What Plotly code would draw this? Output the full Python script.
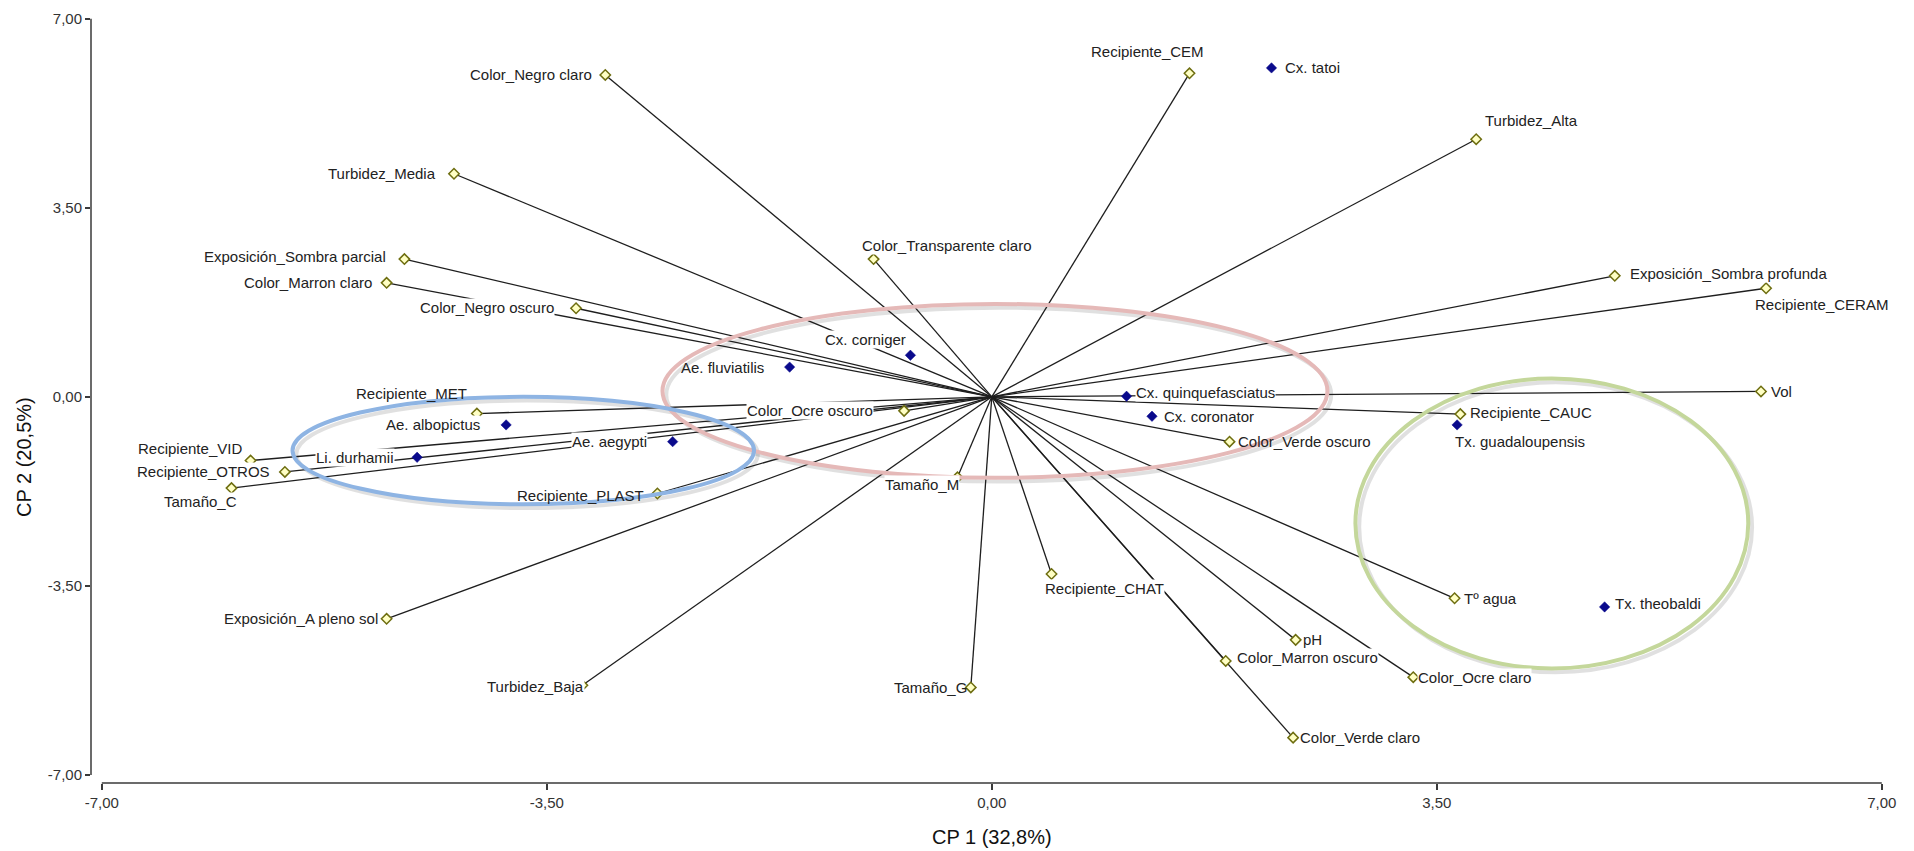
import plotly.graph_objects as go

# --- Variable loadings (CP 1, CP 2) -------------------------------------
var_names = [
    "Color_Negro claro", "Turbidez_Media", "Exposición_Sombra parcial",
    "Color_Marron claro", "Color_Negro oscuro", "Color_Transparente claro",
    "Recipiente_CEM", "Turbidez_Alta", "Exposición_Sombra profunda",
    "Recipiente_CERAM", "Vol", "Recipiente_CAUC", "Color_Verde oscuro",
    "Tº agua", "pH", "Color_Ocre claro", "Color_Marron oscuro",
    "Color_Verde claro", "Recipiente_CHAT", "Tamaño_G", "Tamaño_M",
    "Color_Ocre oscuro", "Recipiente_MET", "Recipiente_VID",
    "Recipiente_OTROS", "Tamaño_C", "Recipiente_PLAST",
    "Exposición_A pleno sol", "Turbidez_Baja",
]
var_cp1 = [-3.04, -4.23, -4.62, -4.76, -3.27, -0.93, 1.555, 3.81, 4.90,
           6.09, 6.05, 3.685, 1.87, 3.64, 2.39, 3.315, 1.84, 2.37, 0.47,
           -0.165, -0.27, -0.69, -4.05, -5.83, -5.56, -5.98, -2.63, -4.76,
           -3.22]
var_cp2 = [5.96, 4.13, 2.55, 2.11, 1.64, 2.55, 5.99, 4.77, 2.24, 2.01,
           0.10, -0.32, -0.83, -3.73, -4.50, -5.19, -4.89, -6.31, -3.28,
           -5.38, -1.49, -0.26, -0.31, -1.18, -1.39, -1.69, -1.79, -4.11,
           -5.34]

# --- Species scores (CP 1, CP 2) ----------------------------------------
sp_names = [
    "Cx. tatoi", "Cx. corniger", "Ae. fluviatilis", "Cx. quinquefasciatus",
    "Cx. coronator", "Tx. guadaloupensis", "Tx. theobaldi",
    "Ae. albopictus", "Ae. aegypti", "Li. durhamii",
]
sp_cp1 = [2.20, -0.64, -1.59, 1.06, 1.26, 3.66, 4.82, -3.82, -2.51, -4.52]
sp_cp2 = [6.09, 0.77, 0.55, 0.01, -0.36, -0.52, -3.89, -0.52, -0.83, -1.12]

# --- Axis ticks ---------------------------------------------------------
tick_vals = [-7.0, -3.5, 0.0, 3.5, 7.0]
tick_text = ["-7,00", "-3,50", "0,00", "3,50", "7,00"]

# --- Group outlines (x0, x1, y0, y1, colour) ----------------------------
groups = [
    (-2.59, 2.64, -1.50, 1.72, "#e5b9b8"),
    (-5.50, -1.87, -1.99, 0.00, "#8eb4e3"),
    (2.86, 5.95, -5.03, 0.34, "#c4d79b"),
]

# Label placement: (xanchor, xshift px, yshift px)
label_place = {
    "Color_Negro claro": ("right", -12, 0),
    "Turbidez_Media": ("right", -17, 0),
    "Exposición_Sombra parcial": ("right", -17, 3),
    "Color_Marron claro": ("right", -14, 0),
    "Color_Negro oscuro": ("right", -21, 1),
    "Color_Transparente claro": ("left", -13, 14),
    "Recipiente_CEM": ("right", 16, 22),
    "Turbidez_Alta": ("left", 8, 19),
    "Exposición_Sombra profunda": ("left", 14, 2),
    "Recipiente_CERAM": ("left", -12, -16),
    "Vol": ("left", 9, 0),
    "Recipiente_CAUC": ("left", 9, 2),
    "Color_Verde oscuro": ("left", 7, 0),
    "Tº agua": ("left", 8, 0),
    "pH": ("left", 6, 0),
    "Color_Ocre claro": ("left", 4, 0),
    "Color_Marron oscuro": ("left", 10, 3),
    "Color_Verde claro": ("left", 6, 0),
    "Recipiente_CHAT": ("left", -8, -15),
    "Tamaño_G": ("right", -3, 0),
    "Tamaño_M": ("right", 3, -7),
    "Color_Ocre oscuro": ("right", -30, 0),
    "Recipiente_MET": ("right", -9, 20),
    "Recipiente_VID": ("right", -8, 12),
    "Recipiente_OTROS": ("right", -14, 0),
    "Tamaño_C": ("right", 7, -13),
    "Recipiente_PLAST": ("right", -12, -2),
    "Exposición_A pleno sol": ("right", -8, 0),
    "Turbidez_Baja": ("right", 3, -1),
    "Cx. tatoi": ("left", 12, 0),
    "Cx. corniger": ("right", -3, 16),
    "Ae. fluviatilis": ("right", -25, 0),
    "Cx. quinquefasciatus": ("left", 8, 4),
    "Cx. coronator": ("left", 11, 0),
    "Tx. guadaloupensis": ("left", -3, -17),
    "Tx. theobaldi": ("left", 9, 3),
    "Ae. albopictus": ("right", -25, 0),
    "Ae. aegypti": ("right", -25, 0),
    "Li. durhamii": ("right", -22, 0),
}
# Labels drawn without an opaque box (the group outlines run across them)
no_box = {"Color_Verde oscuro", "Recipiente_PLAST", "Recipiente_MET",
          "Ae. fluviatilis", "Tamaño_G"}

FONT = "Liberation Sans, Arial, sans-serif"

fig = go.Figure()

# Vectors from the origin to each variable
vx, vy = [], []
for x, y in zip(var_cp1, var_cp2):
    vx += [0, x, None]
    vy += [0, y, None]
fig.add_trace(go.Scatter(x=vx, y=vy, mode="lines",
                         line=dict(color="#1e1e1e", width=1.3),
                         hoverinfo="skip", showlegend=False))

# Variable end points
fig.add_trace(go.Scatter(x=var_cp1, y=var_cp2, mode="markers",
                         marker=dict(symbol="diamond", size=8, color="#ffffc4",
                                     line=dict(color="#6e6e10", width=1.5)),
                         text=var_names, hoverinfo="text", showlegend=False))

# Species points
fig.add_trace(go.Scatter(x=sp_cp1, y=sp_cp2, mode="markers",
                         marker=dict(symbol="diamond", size=8, color="#0a0a8c",
                                     line=dict(color="#0a0a8c", width=0.5)),
                         text=sp_names, hoverinfo="text", showlegend=False))

annotations = []
for names, xs, ys in ((var_names, var_cp1, var_cp2), (sp_names, sp_cp1, sp_cp2)):
    for n, x, y in zip(names, xs, ys):
        xa, dx, dy = label_place[n]
        ann = dict(x=x, y=y, xref="x", yref="y", text=n,
                   showarrow=False, xanchor=xa, yanchor="middle",
                   xshift=dx, yshift=dy, borderpad=0,
                   font=dict(family=FONT, size=15, color="#222222"))
        if n not in no_box:
            ann["bgcolor"] = "white"
        annotations.append(ann)

# Axis titles
annotations.append(dict(x=0, y=0, xref="x", yref="paper", text="CP 1 (32,8%)",
                        showarrow=False, xanchor="center", yanchor="middle",
                        yshift=-54, font=dict(family=FONT, size=20, color="#111111")))
annotations.append(dict(x=0, y=0.424, xref="paper", yref="paper", text="CP 2 (20,5%)",
                        showarrow=False, xanchor="center", yanchor="middle",
                        xshift=-67, textangle=-90,
                        font=dict(family=FONT, size=20, color="#111111")))

shapes = []
# Group outlines with a soft drop shadow
for x0, x1, y0, y1, col in groups:
    shapes.append(dict(type="circle", xref="x", yref="y",
                       x0=x0 + 0.03, x1=x1 + 0.03, y0=y0 - 0.07, y1=y1 - 0.07,
                       line=dict(color="rgba(0,0,0,0.12)", width=4), layer="below"))
    shapes.append(dict(type="circle", xref="x", yref="y",
                       x0=x0, x1=x1, y0=y0, y1=y1,
                       line=dict(color=col, width=4), layer="above"))

# Axis lines
shapes.append(dict(type="line", xref="x", yref="paper", x0=-7, x1=7, y0=0, y1=0,
                   line=dict(color="#3a3a3a", width=1.5)))
shapes.append(dict(type="line", xref="paper", yref="y", x0=0, x1=0, y0=-7, y1=7,
                   line=dict(color="#3a3a3a", width=1.5)))

fig.update_layout(
    width=1914, height=851,
    margin=dict(l=91, r=26, t=10, b=68),
    paper_bgcolor="white", plot_bgcolor="white",
    annotations=annotations, shapes=shapes,
    xaxis=dict(range=[-7.085, 7.049], tickvals=tick_vals, ticktext=tick_text,
               showgrid=False, zeroline=False, showline=False,
               ticks="outside", ticklen=6, tickcolor="#3a3a3a", tickwidth=1.5,
               tickfont=dict(family=FONT, size=15, color="#333333")),
    yaxis=dict(range=[-7.15, 7.088], tickvals=tick_vals, ticktext=tick_text,
               showgrid=False, zeroline=False, showline=False,
               ticks="outside", ticklen=5, tickcolor="#3a3a3a", tickwidth=1.5,
               tickfont=dict(family=FONT, size=15, color="#333333")),
)

fig.write_html("out.html")
